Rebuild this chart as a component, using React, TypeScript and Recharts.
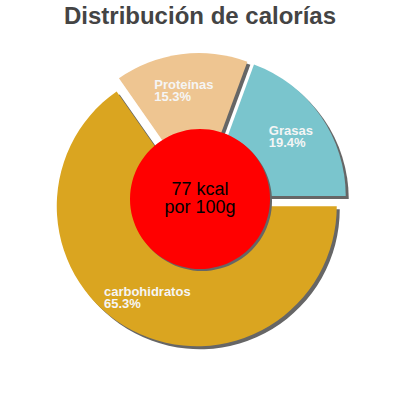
import React from 'react';
import { PieChart, Pie, Cell, Sector } from 'recharts';

const names = ['Grasas', 'Proteínas', 'carbohidratos'];
const values = [19.4, 15.3, 65.3];
const colors = ['#7AC5CD', '#EEC591', '#DAA520'];
const title = 'Distribución de calorías';
const centerLines = ['77 kcal', 'por 100g'];

const data = names.map((name, i) => ({ name, value: values[i] }));
const RADIAN = Math.PI / 180;
const EXPLODE = 7;
const SHADOW = 3;

const ExplodedShape = (props: any) => {
  const { cx, cy, innerRadius, outerRadius, startAngle, endAngle, midAngle, fill } = props;
  const dx = EXPLODE * Math.cos(-midAngle * RADIAN);
  const dy = EXPLODE * Math.sin(-midAngle * RADIAN);
  return (
    <g>
      <Sector cx={cx + dx + SHADOW} cy={cy + dy + SHADOW} innerRadius={innerRadius} outerRadius={outerRadius}
        startAngle={startAngle} endAngle={endAngle} fill="#666666" />
      <Sector cx={cx + dx} cy={cy + dy} innerRadius={innerRadius} outerRadius={outerRadius}
        startAngle={startAngle} endAngle={endAngle} fill={fill} />
    </g>
  );
};

const CircleShape = (props: any) => {
  const { cx, cy, outerRadius, startAngle, endAngle } = props;
  return (
    <g>
      <Sector cx={cx + 2} cy={cy + 2} innerRadius={0} outerRadius={outerRadius} startAngle={startAngle} endAngle={endAngle} fill="#666666" />
      <Sector cx={cx} cy={cy} innerRadius={0} outerRadius={outerRadius} startAngle={startAngle} endAngle={endAngle} fill="#FF0000" />
    </g>
  );
};

const renderLabel = (props: any) => {
  const { cx, cy, midAngle, name, percent } = props;
  const r = 110;
  const px = cx + r * Math.cos(-midAngle * RADIAN);
  const py = cy + r * Math.sin(-midAngle * RADIAN);
  const w = name.length * 6.8;
  const x = px - w / 2 - 1;
  return (
    <text x={x} y={py - 2} fill="#F5F5F5" fontSize={13} fontWeight="bold" fontFamily="'Liberation Sans', Arial, sans-serif" textAnchor="start">
      <tspan x={x} dy={0}>{name}</tspan>
      <tspan x={x} dy={12}>{(percent * 100).toFixed(1) + '%'}</tspan>
    </text>
  );
};

export default function App() {
  return (
    <div style={{ position: 'absolute', left: 0, top: 0, width: 400, height: 400, background: '#fff' }}>
      <PieChart width={400} height={400} margin={{ top: 0, right: 0, bottom: 0, left: 0 }}>
        <Pie
          data={data}
          dataKey="value"
          nameKey="name"
          cx={200}
          cy={200}
          outerRadius={140}
          startAngle={0}
          endAngle={360}
          stroke="none"
          isAnimationActive={false}
          shape={ExplodedShape}
          label={renderLabel}
          labelLine={false}
        >
          {data.map((d, i) => (
            <Cell key={d.name} fill={colors[i]} />
          ))}
        </Pie>
        <Pie
          data={[{ name: 'total', value: 1 }]}
          dataKey="value"
          cx={200}
          cy={199}
          outerRadius={70}
          startAngle={0}
          endAngle={360}
          stroke="none"
          fill="#FF0000"
          isAnimationActive={false}
          shape={CircleShape}
        />
      </PieChart>
      <div style={{ position: 'absolute', left: 0, top: 2, width: 400, textAlign: 'center', fontFamily: "'Liberation Sans', Arial, sans-serif", fontWeight: 'bold', fontSize: 24, color: '#444444', lineHeight: '28px' }}>
        {title}
      </div>
      <div style={{ position: 'absolute', left: 0, top: 180, width: 400, textAlign: 'center', fontFamily: "'Liberation Sans', Arial, sans-serif", fontSize: 18, color: '#000', lineHeight: '18px' }}>
        {centerLines.map((l) => (
          <div key={l}>{l}</div>
        ))}
      </div>
    </div>
  );
}
